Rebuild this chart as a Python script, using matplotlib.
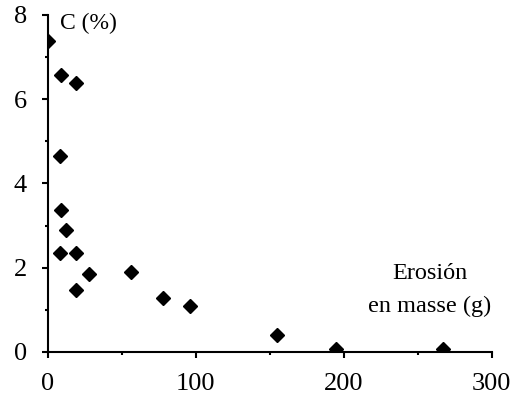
import matplotlib.pyplot as plt
from matplotlib.ticker import MultipleLocator

# erosion (g) vs carbon content C (%)
erosion = [0, 9, 19, 8, 9, 12, 8, 19, 28, 19, 56, 78, 96, 155, 195, 267]
carbon = [7.38, 6.56, 6.39, 4.64, 3.38, 2.89, 2.34, 2.34, 1.85, 1.47, 1.90, 1.27, 1.09, 0.40, 0.06, 0.06]

plt.rcParams['font.family'] = ['Liberation Serif', 'DejaVu Serif']

fig = plt.figure(figsize=(5.26, 4), dpi=100)
ax = fig.add_axes([0.091, 0.12, 0.844, 0.843])

ax.plot(erosion, carbon, linestyle='none', marker='D', markersize=7.5, color='black')

ax.set_xlim(0, 300)
ax.set_ylim(0, 8)
ax.xaxis.set_major_locator(MultipleLocator(100))
ax.xaxis.set_minor_locator(MultipleLocator(50))
ax.yaxis.set_major_locator(MultipleLocator(2))
ax.yaxis.set_minor_locator(MultipleLocator(1))

for side in ['top', 'right']:
    ax.spines[side].set_visible(False)
for side in ['left', 'bottom']:
    ax.spines[side].set_linewidth(1.5)

ax.tick_params(which='major', length=4, width=1.5, labelsize=19, pad=11)
ax.tick_params(which='minor', length=2.5, width=1.5)

ax.text(0.027, 0.957, 'C (%)', transform=ax.transAxes, fontsize=17, va='baseline', ha='left')
ax.text(0.86, 0.216, 'Erosión', transform=ax.transAxes, fontsize=17.5, ha='center', va='baseline')
ax.text(0.86, 0.118, 'en masse (g)', transform=ax.transAxes, fontsize=17.5, ha='center', va='baseline')

plt.savefig('out.png', dpi=100)
